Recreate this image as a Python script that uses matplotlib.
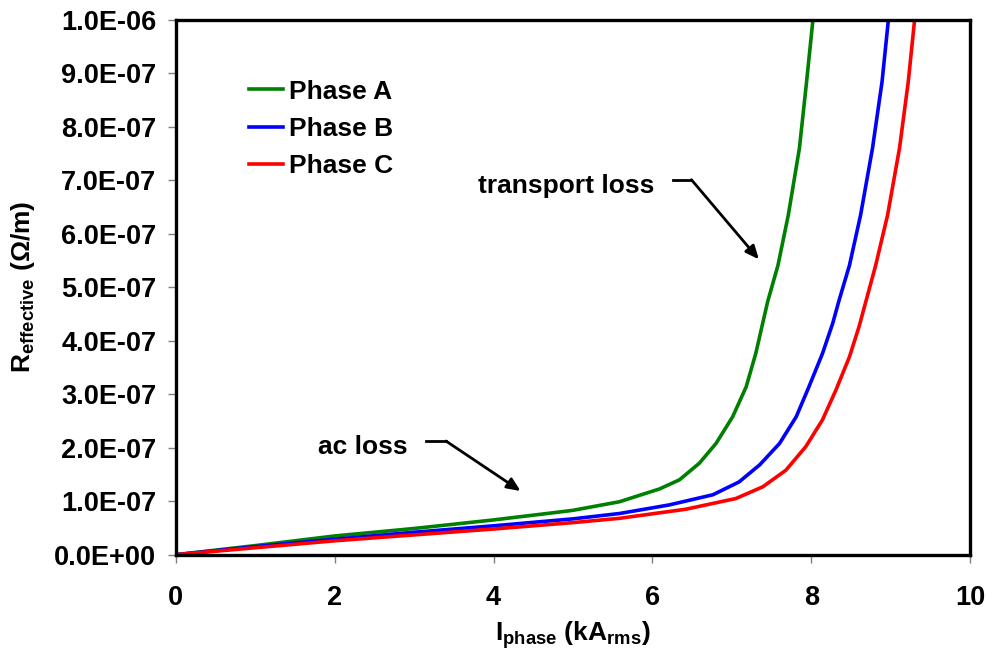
import matplotlib
matplotlib.use('Agg')
import matplotlib.pyplot as plt
from matplotlib.ticker import FuncFormatter

plt.rcParams['font.family'] = ['Liberation Sans', 'DejaVu Sans']
plt.rcParams['font.weight'] = 'bold'
plt.rcParams['mathtext.fontset'] = 'custom'
plt.rcParams['mathtext.bf'] = 'Liberation Sans:bold'
plt.rcParams['mathtext.rm'] = 'Liberation Sans:bold'
plt.rcParams['mathtext.default'] = 'bf'

# Phase A (green) - I (kA rms), R (x1e-7 ohm/m)
xa = [0, 1, 2, 3, 4, 4.84, 5.0, 5.585, 6.09, 6.34, 6.59, 6.80, 7.01, 7.18, 7.30, 7.45, 7.58, 7.71, 7.85, 7.94, 8.02]
ya = [0, 0.17, 0.35, 0.49, 0.65, 0.80, 0.83, 0.99, 1.23, 1.40, 1.71, 2.08, 2.58, 3.14, 3.76, 4.73, 5.41, 6.35, 7.60, 8.84, 10.0]
# Phase B (blue)
xb = [0, 1, 2, 3, 4, 5, 5.585, 6.21, 6.76, 7.09, 7.35, 7.60, 7.81, 7.97, 8.14, 8.27, 8.35, 8.48, 8.62, 8.77, 8.89, 8.97]
yb = [0, 0.15, 0.29, 0.42, 0.54, 0.67, 0.77, 0.93, 1.12, 1.36, 1.68, 2.08, 2.58, 3.14, 3.76, 4.33, 4.76, 5.41, 6.35, 7.60, 8.84, 10.0]
# Phase C (red)
xc = [0, 1, 2, 3, 4, 5, 5.585, 6.42, 7.05, 7.39, 7.68, 7.93, 8.14, 8.31, 8.48, 8.60, 8.81, 8.96, 9.11, 9.22, 9.30]
yc = [0, 0.13, 0.26, 0.37, 0.48, 0.60, 0.68, 0.85, 1.05, 1.27, 1.58, 2.02, 2.52, 3.08, 3.70, 4.26, 5.41, 6.35, 7.60, 8.84, 10.0]

escala = 1e-7
fases = ['Phase A', 'Phase B', 'Phase C']
cores = ['#008000', '#0000ff', '#ff0000']

fig = plt.figure(figsize=(9.88, 6.58), dpi=100)
ax = fig.add_axes([0.178, 0.157, 0.804, 0.813])

for xs, ys, nome, cor in zip([xa, xb, xc], [ya, yb, yc], fases, cores):
    ax.plot(xs, [v*escala for v in ys], color=cor, lw=2.6, label=nome)

ax.set_xlim(0, 10)
ax.set_ylim(0, 1e-6)
ax.set_xticks([0, 2, 4, 6, 8, 10])
ax.set_yticks([i*1e-7 for i in range(11)])
ax.yaxis.set_major_formatter(FuncFormatter(lambda v, p: '{:.1E}'.format(v)))
ax.tick_params(direction='out', length=6, width=1, color='#808080', labelsize=19.5)
ax.tick_params(axis='y', pad=8)
ax.tick_params(axis='x', pad=16)
for s in ax.spines.values():
    s.set_linewidth(2.4)
for lab in ax.get_xticklabels() + ax.get_yticklabels():
    lab.set_fontweight('bold')

ax.set_xlabel('I$_{phase}$ (kA$_{rms}$)', fontsize=19, fontweight='bold')
ax.set_ylabel('R$_{effective}$ ($\\Omega$/m)', fontsize=19, fontweight='bold')
ax.xaxis.set_label_coords(0.5, -0.12)
ax.yaxis.set_label_coords(-0.175, 0.5)

ax.legend(loc='upper left', bbox_to_anchor=(0.092, 0.888), frameon=False,
          handlelength=1.3, handletextpad=0.2, labelspacing=0.5,
          borderpad=0, borderaxespad=0, prop={'weight': 'bold', 'size': 19})

# anotacoes
ax.text(4.91, 6.89e-7, 'transport loss', fontsize=19, fontweight='bold', ha='center', va='center')
ax.plot([6.26, 6.49], [7.01e-7, 7.01e-7], color='black', lw=2)
ax.annotate('', xy=(7.34, 5.52e-7), xytext=(6.49, 7.01e-7),
            arrowprops=dict(arrowstyle='-|>,head_length=0.8,head_width=0.35', lw=2, color='black',
                            shrinkA=0, shrinkB=0))

ax.text(2.35, 2.01e-7, 'ac loss', fontsize=19, fontweight='bold', ha='center', va='center')
ax.plot([3.15, 3.40], [2.125e-7, 2.125e-7], color='black', lw=2)
ax.annotate('', xy=(4.34, 1.19e-7), xytext=(3.40, 2.125e-7),
            arrowprops=dict(arrowstyle='-|>,head_length=0.8,head_width=0.35', lw=2, color='black',
                            shrinkA=0, shrinkB=0))

fig.savefig('out.png', dpi=100)
